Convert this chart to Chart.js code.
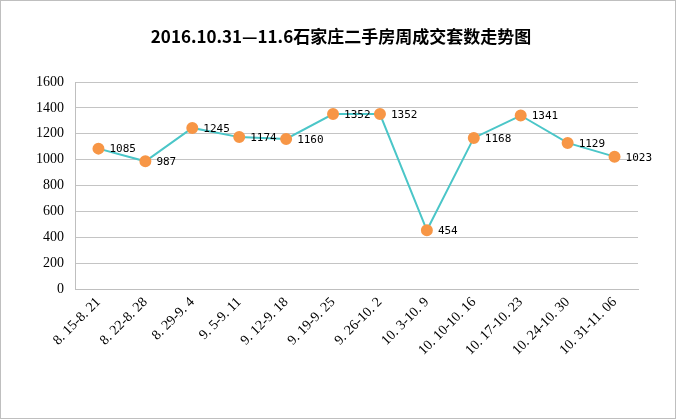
<!DOCTYPE html>
<html>
<head>
<meta charset="utf-8">
<script src="https://cdn.jsdelivr.net/npm/chart.js@4"></script>
<style>
  html, body { margin: 0; padding: 0; background: #fff; }
  #wrap { width: 676px; height: 419px; position: relative; }
</style>
</head>
<body>
<div id="wrap"><canvas id="chart" width="676" height="419"></canvas></div>
<script>
// weekly periods
const weeks = [
  '8. 15-8. 21', '8. 22-8. 28', '8. 29-9. 4', '9. 5-9. 11', '9. 12-9. 18', '9. 19-9. 25',
  '9. 26-10. 2', '10. 3-10. 9', '10. 10-10. 16', '10. 17-10. 23', '10. 24-10. 30', '10. 31-11. 06'
];
// deals per week
const deals = [1085, 987, 1245, 1174, 1160, 1352, 1352, 454, 1168, 1341, 1129, 1023];
const yTicks = [0, 200, 400, 600, 800, 1000, 1200, 1400, 1600];
const chartTitle = '2016.10.31—11.6石家庄二手房周成交套数走势图';

// title, frame and value labels
const decor = {
  id: 'decor',
  afterDraw(chart) {
    const ctx = chart.ctx;
    ctx.save();
    ctx.strokeStyle = '#bfbfbf';
    ctx.lineWidth = 1;
    ctx.strokeRect(0.5, 0.5, chart.width - 1, chart.height - 1);

    ctx.fillStyle = '#000';
    ctx.font = 'bold 17px "Noto Sans CJK SC", sans-serif';
    ctx.textAlign = 'center';
    ctx.textBaseline = 'middle';
    ctx.fillText(chartTitle, 341, 37);

    ctx.font = '11px "DejaVu Sans Mono", monospace';
    ctx.textAlign = 'left';
    const meta = chart.getDatasetMeta(0);
    meta.data.forEach((pt, i) => {
      ctx.fillText(String(deals[i]), pt.x + 11, pt.y + 1);
    });
    ctx.restore();
  }
};

new Chart(document.getElementById('chart'), {
  type: 'line',
  data: {
    labels: weeks,
    datasets: [{
      data: deals,
      borderColor: '#4bc6c8',
      borderWidth: 2,
      pointBackgroundColor: '#f79646',
      pointBorderColor: '#f79646',
      pointRadius: 5,
      tension: 0
    }]
  },
  options: {
    responsive: false,
    animation: false,
    layout: { padding: { top: 82, right: 38, left: 0, bottom: 0 } },
    plugins: { legend: { display: false }, title: { display: false }, tooltip: { enabled: false } },
    scales: {
      x: {
        offset: true,
        grid: { display: false, drawTicks: false },
        border: { display: true, color: '#bfbfbf' },
        ticks: {
          autoSkip: false,
          maxRotation: 45,
          minRotation: 45,
          color: '#000',
          padding: 5,
          font: { family: '"Liberation Serif", serif', size: 14 }
        },
        afterFit(scale) { scale.height = 419 - 289; }
      },
      y: {
        min: 0,
        max: 1600,
        afterBuildTicks(scale) { scale.ticks = yTicks.map(v => ({ value: v })); },
        grid: { color: '#c4c4c4', drawTicks: false },
        border: { display: true, color: '#bfbfbf' },
        ticks: {
          color: '#000',
          padding: 11,
          callback: v => String(v),
          font: { family: '"Liberation Serif", serif', size: 14 }
        },
        afterFit(scale) { scale.width = 75; }
      }
    }
  },
  plugins: [decor]
});
</script>
</body>
</html>
